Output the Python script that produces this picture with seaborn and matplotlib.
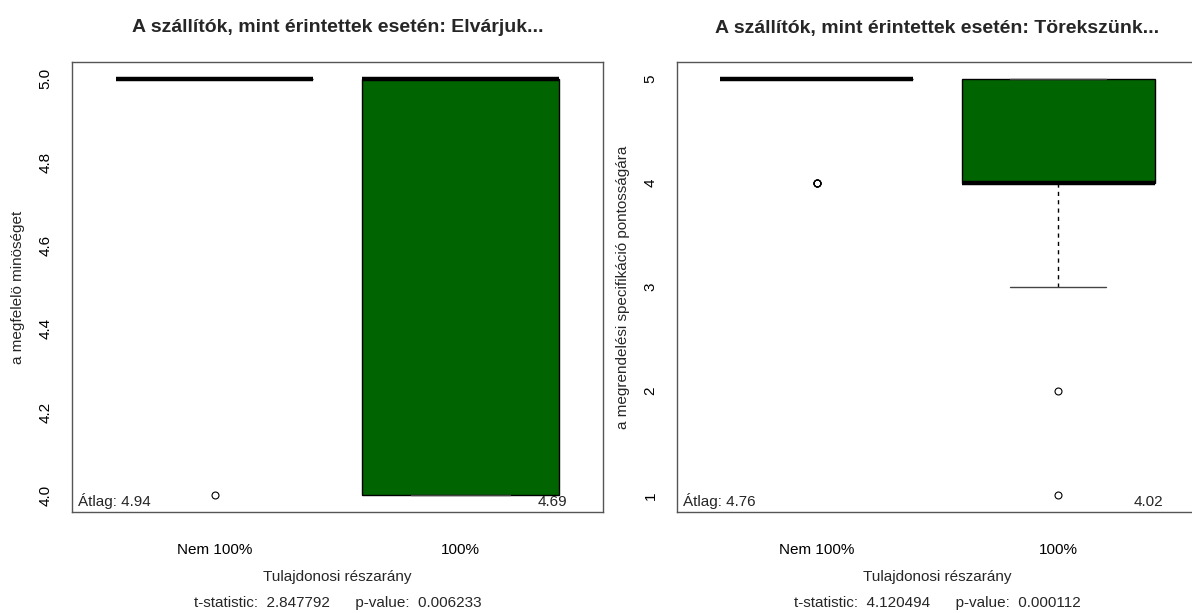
import numpy as np
import pandas as pd
import matplotlib
matplotlib.use("Agg")
import matplotlib.pyplot as plt
import matplotlib.transforms as mtransforms
import seaborn as sns

# ---------------- data ----------------
groups = ["Nem 100%", "100%"]
likert_levels = [1, 2, 3, 4, 5]

# counts of answers per Likert level (1..5) for each group
elvarjuk_nem100_counts = [0, 0, 0, 1, 16]
elvarjuk_100_counts = [0, 0, 0, 5, 11]
torekszunk_nem100_counts = [0, 0, 0, 4, 13]
torekszunk_100_counts = [1, 1, 8, 26, 14]

titles = ["A szállítók, mint érintettek esetén: Elvárjuk...",
          "A szállítók, mint érintettek esetén: Törekszünk..."]
ylabels = ["a megfelelö minöséget",
           "a megrendelési specifikáció pontosságára"]
xlabel = "Tulajdonosi részarány"
t_statistics = ["2.847792", "4.120494"]
p_values = ["0.006233", "0.000112"]
yticks_left = [4.0, 4.2, 4.4, 4.6, 4.8, 5.0]
yticks_right = [1, 2, 3, 4, 5]


def make_frame(counts_by_group):
    rows = []
    for g, counts in zip(groups, counts_by_group):
        vals = np.repeat(likert_levels, counts)
        rows.append(pd.DataFrame({"group": g, "value": vals}))
    return pd.concat(rows, ignore_index=True)


frames = [make_frame([elvarjuk_nem100_counts, elvarjuk_100_counts]),
          make_frame([torekszunk_nem100_counts, torekszunk_100_counts])]
yticks_all = [yticks_left, yticks_right]
ytick_fmt = ["{:.1f}", "{:d}"]

# ---------------- style ----------------
sns.set_theme(style="white")
plt.rcParams["font.family"] = ["Liberation Sans", "DejaVu Sans"]

W, H = 1192, 613
fig = plt.figure(figsize=(W / 100, H / 100), dpi=100)

axes_px = [(72, 62, 603, 512), (677, 62, 1198, 512)]
GREEN = "#006400"
SPINE = "#555555"

for i, (df, (l, t, r, b)) in enumerate(zip(frames, axes_px)):
    ax = fig.add_axes([l / W, 1 - b / H, (r - l) / W, (b - t) / H])
    sns.boxplot(
        data=df, x="group", y="value", order=groups, ax=ax,
        color=GREEN, saturation=1, width=0.8, linewidth=1,
        linecolor="black", whis=1.5,
        medianprops=dict(color="black", linewidth=3.2, solid_capstyle="butt"),
        whiskerprops=dict(color="black", linewidth=1, linestyle=(0, (3, 3))),
        capprops=dict(color="#444444", linewidth=1),
        flierprops=dict(marker="o", markerfacecolor="none",
                        markeredgecolor="black", markersize=5,
                        markeredgewidth=0.8),
    )
    ax.set_xlim(-0.58, 1.58)
    yt = yticks_all[i]
    span = yt[-1] - yt[0]
    ax.set_ylim(yt[0] - 0.04 * span, yt[-1] + 0.04 * span)
    ax.set_yticks(yt)
    ax.set_yticklabels([ytick_fmt[i].format(v) for v in yt],
                       rotation=90, va="center", fontsize=11)
    ax.set_xticks(range(len(groups)))
    ax.set_xticklabels(groups, fontsize=11)
    ax.tick_params(axis="both", direction="out", length=7, width=1,
                   color=SPINE, labelcolor="black")
    ax.tick_params(axis="y", pad=7)
    ax.tick_params(axis="x", pad=15)
    ax.set_xlabel("")
    ax.set_ylabel(ylabels[i], fontsize=11, labelpad=10)
    for s in ax.spines.values():
        s.set_visible(True)
        s.set_color(SPINE)
        s.set_linewidth(1)
    ax.set_facecolor("white")

    # means
    m_nem = df.loc[df.group == groups[0], "value"].mean()
    m_100 = df.loc[df.group == groups[1], "value"].mean()
    trans = mtransforms.blended_transform_factory(ax.transData, ax.transAxes)
    ax.text(-0.555, 0.006, f"Átlag: {m_nem:.2f}", transform=trans,
            ha="left", va="bottom", fontsize=11)
    ax.text(1.435, 0.006, f"{m_100:.2f}", transform=trans,
            ha="right", va="bottom", fontsize=11)

    cx = (l + r) / 2 / W
    fig.text(cx, 1 - 28 / H, titles[i], ha="center", va="center",
             fontsize=14, fontweight="bold")
    fig.text(cx, 1 - 577 / H, xlabel, ha="center", va="center", fontsize=11)
    fig.text(cx, 1 - 603 / H,
             f"t-statistic:  {t_statistics[i]}      p-value:  {p_values[i]}",
             ha="center", va="center", fontsize=11)

fig.savefig("out.png", dpi=100, facecolor="white")
